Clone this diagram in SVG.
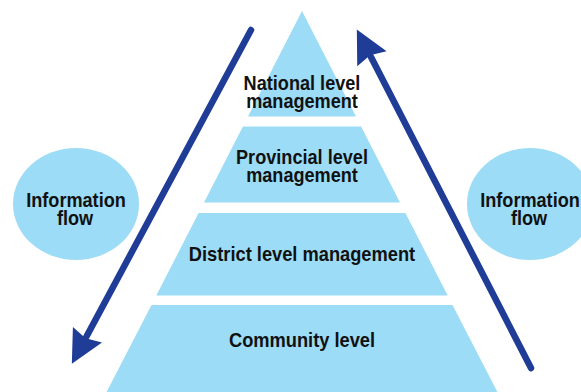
<svg xmlns="http://www.w3.org/2000/svg" width="581" height="392" viewBox="0 0 581 392">
  <style>
    .shape { fill: #9ddcf6; stroke: none; }
    .lbl { font-family: "Liberation Sans", Arial, sans-serif; font-weight: bold; font-size: 21px; fill: #111111; text-anchor: middle; }
    .lbl2 { font-family: "Liberation Sans", Arial, sans-serif; font-weight: bold; font-size: 19.5px; fill: #111111; text-anchor: middle; }
    .flow { fill: none; stroke: #1f3c96; stroke-width: 6.5; stroke-linecap: round; }
  </style>
  <defs>
    <marker id="head" markerUnits="userSpaceOnUse" markerWidth="40" markerHeight="40" viewBox="-4 -20 38 40" refX="0" refY="0" orient="auto">
      <polygon points="-2,-16.5 31,0 -2,16.5 2,0" fill="#1f3c96"/>
    </marker>
  </defs>
  <rect x="0" y="0" width="581" height="392" fill="#ffffff"/>

  <g id="national">
    <polygon class="shape" points="302,11 356,116.5 248,116.5"/>
    <text class="lbl2" transform="translate(302 90) scale(0.93 1)"><tspan x="0" y="0">National level</tspan><tspan x="0" dy="18">management</tspan></text>
  </g>
  <g id="provincial">
    <polygon class="shape" points="242.9,126.5 361.1,126.5 400,202.5 204,202.5"/>
    <text class="lbl2" transform="translate(302 164) scale(0.93 1)"><tspan x="0" y="0">Provincial level</tspan><tspan x="0" dy="18.5">management</tspan></text>
  </g>
  <g id="district">
    <polygon class="shape" points="198.6,213 405.4,213 447.7,295.5 156.3,295.5"/>
    <text class="lbl" transform="translate(302 261) scale(0.87 1)">District level management</text>
  </g>
  <g id="community">
    <polygon class="shape" points="151.5,305 452.5,305 500,397 104,397"/>
    <text class="lbl" transform="translate(302 347) scale(0.87 1)">Community level</text>
  </g>

  <g id="info-left">
    <ellipse class="shape" cx="76" cy="204" rx="63" ry="56"/>
    <text class="lbl2" transform="translate(76 207) scale(0.93 1)"><tspan x="0" y="0">Information</tspan><tspan x="-1" dy="18">flow</tspan></text>
  </g>
  <g id="info-right">
    <ellipse class="shape" cx="530" cy="204" rx="63" ry="56"/>
    <text class="lbl2" transform="translate(530 207) scale(0.93 1)"><tspan x="0" y="0">Information</tspan><tspan x="-1" dy="18">flow</tspan></text>
  </g>

  <g id="connectors">
    <line class="flow" x1="251" y1="30" x2="86.5" y2="336.5" marker-end="url(#head)"/>
    <line class="flow" x1="531" y1="368" x2="371" y2="57" marker-end="url(#head)"/>
  </g>
</svg>
